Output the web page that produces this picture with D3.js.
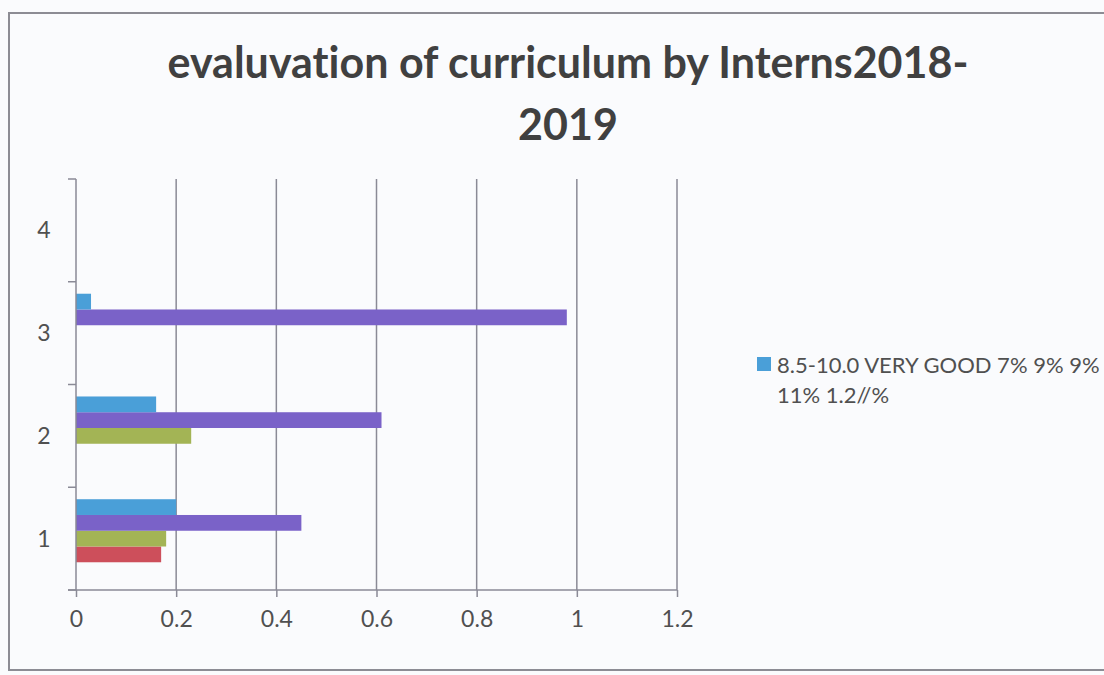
<!DOCTYPE html>
<html>
<head>
<meta charset="utf-8">
<script src="https://cdn.jsdelivr.net/npm/d3@7"></script>
<style>
  html, body { margin: 0; padding: 0; background: #fafbfd; }
  svg { display: block; }
  text { font-variant-ligatures: none; font-feature-settings: "liga" 0; }
</style>
</head>
<body>
<svg id="chart" width="1104" height="675"></svg>
<script>
// ---- data ----
const categories = ["1", "2", "3", "4"];
const seriesNames = ["Series1", "Series2", "Series3", "Series4", "8.5-10.0 VERY GOOD 7% 9% 9% 11% 1.2//%"];
const series1 = [0, 0, 0, 0];
const series2 = [0.17, 0, 0, 0];
const series3 = [0.18, 0.23, 0, 0];
const series4 = [0.45, 0.61, 0.98, 0];
const series5 = [0.20, 0.16, 0.03, 0];
const seriesColors = ["none", "#cd4f5b", "#a3b455", "#7a62c8", "#4a9fd8"];
const xTicks = [0, 0.2, 0.4, 0.6, 0.8, 1, 1.2];
const titleLines = ["evaluvation of curriculum by Interns2018-", "2019"];
const legendLines = ["8.5-10.0 VERY GOOD 7% 9% 9%", "11% 1.2//%"];

const allSeries = [series1, series2, series3, series4, series5];

const svg = d3.select("#chart");
const font = "Lato, 'Open Sans', sans-serif";

// background + border
svg.append("rect").attr("x", 0).attr("y", 0).attr("width", 1104).attr("height", 675).attr("fill", "#fafbfd");
svg.append("rect").attr("x", 9).attr("y", 13).attr("width", 1120).attr("height", 657)
  .attr("fill", "none").attr("stroke", "#8c8c94").attr("stroke-width", 2);

// scales
const x = d3.scaleLinear().domain([0, 1.2]).range([76, 677]);
const y = d3.scaleBand().domain(categories.slice().reverse()).range([179, 590]).paddingInner(0).paddingOuter(0);
// within each category: last series at top
const seriesIdx = d3.range(allSeries.length).reverse();
const ySub = d3.scaleBand().domain(seriesIdx).range([0, y.bandwidth()]).paddingInner(0).paddingOuter(0.76);

const axisColor = "#8a8a96";

// gridlines
svg.append("g").selectAll("line").data(xTicks.filter(d => d > 0)).join("line")
  .attr("x1", d => x(d)).attr("x2", d => x(d))
  .attr("y1", 179).attr("y2", 590)
  .attr("stroke", axisColor).attr("stroke-width", 1.5);

// bars
const barData = [];
allSeries.forEach((s, si) => {
  s.forEach((v, ci) => {
    if (v > 0 && seriesColors[si] !== "none") barData.push({ si, cat: categories[ci], v });
  });
});
svg.append("g").selectAll("rect").data(barData).join("rect")
  .attr("x", x(0))
  .attr("y", d => y(d.cat) + ySub(d.si))
  .attr("width", d => x(d.v) - x(0))
  .attr("height", ySub.bandwidth())
  .attr("fill", d => seriesColors[d.si]);

// x axis
const xAxis = d3.axisBottom(x).tickValues(xTicks).tickFormat(d3.format("~g")).tickSize(7).tickPadding(14);
const gx = svg.append("g").attr("transform", "translate(0,590)").call(xAxis);
gx.select(".domain").attr("d", `M68,0H${x(1.2)}`).attr("stroke", axisColor).attr("stroke-width", 1.5);
gx.selectAll(".tick line").attr("stroke", axisColor).attr("stroke-width", 1.5);
gx.selectAll(".tick text").attr("font-family", font).attr("font-size", 23).attr("fill", "#505050");

// y axis
const boundaries = categories.map(c => y(c)).concat([590]);
const gy = svg.append("g");
gy.append("line").attr("x1", 76).attr("x2", 76).attr("y1", 179).attr("y2", 590)
  .attr("stroke", axisColor).attr("stroke-width", 1.5);
gy.selectAll("line.tk").data(boundaries).join("line").attr("class", "tk")
  .attr("x1", 68).attr("x2", 76).attr("y1", d => d).attr("y2", d => d)
  .attr("stroke", axisColor).attr("stroke-width", 1.5);
gy.selectAll("text").data(categories).join("text")
  .attr("x", 44).attr("y", d => y(d) + y.bandwidth() / 2)
  .attr("dy", "0.35em").attr("text-anchor", "middle")
  .attr("font-family", font).attr("font-size", 23).attr("fill", "#505050")
  .text(d => d);

// title
const titleY = [78, 140];
svg.append("g").selectAll("text").data(titleLines).join("text")
  .attr("x", 568).attr("y", (d, i) => titleY[i])
  .attr("text-anchor", "middle")
  .attr("font-family", font).attr("font-weight", "bold").attr("font-size", 43)
  .attr("fill", "#404040")
  .text(d => d);

// legend
svg.append("rect").attr("x", 757).attr("y", 357).attr("width", 14).attr("height", 14)
  .attr("fill", seriesColors[4]);
svg.append("g").selectAll("text").data(legendLines).join("text")
  .attr("x", 777).attr("y", (d, i) => 373 + i * 30)
  .attr("font-family", font).attr("font-size", 22).attr("fill", "#505050")
  .text(d => d);
</script>
</body>
</html>
